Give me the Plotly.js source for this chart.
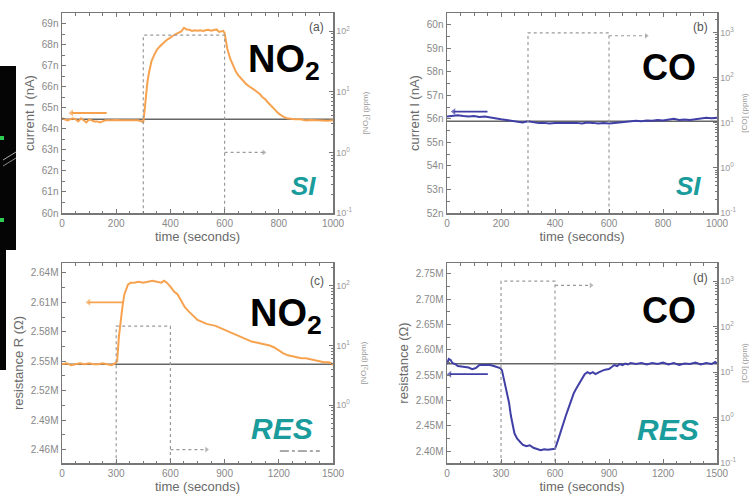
<!DOCTYPE html>
<html><head><meta charset="utf-8">
<script src="https://cdn.plot.ly/plotly-3.0.1.min.js"></script>
<style>html,body{margin:0;padding:0;background:#fff}#chart{width:749px;height:500px}</style>
</head><body><div id="chart"></div>
<script>
// ---- data ----
const tA=[0,10,20,30,40,50,60,70,80,90,100,110,120,130,140,150,160,180,200,220,240,260,280,295,300,305,310,315,320,330,340,350,360,370,380,390,400,410,420,430,440,450,460,470,480,490,500,510,520,530,540,550,560,570,580,590,595,600,605,610,620,630,640,650,660,670,680,690,700,710,720,730,740,750,760,770,780,790,800,810,820,830,840,850,860,880,900,920,940,960,980,1000];
const currentA=[64.5,64.45,64.4,64.45,64.5,64.45,64.35,64.5,64.4,64.3,64.45,64.4,64.35,64.35,64.3,64.35,64.4,64.4,64.42,64.4,64.4,64.42,64.4,64.35,64.3,64.9,65.6,66.2,66.6,67.2,67.5,67.75,67.9,68.05,68.15,68.25,68.35,68.42,68.5,68.55,68.62,68.8,68.72,68.7,68.65,68.68,68.66,68.68,68.65,68.68,68.7,68.66,68.68,68.72,68.6,68.62,68.65,68.55,68.2,67.8,67.35,67.0,66.75,66.55,66.4,66.25,66.12,66.02,65.95,65.85,65.75,65.65,65.5,65.4,65.25,65.1,65.0,64.85,64.72,64.62,64.55,64.5,64.48,64.47,64.45,64.45,64.4,64.42,64.4,64.4,64.38,64.4];

const tB=[0,20,40,60,80,100,120,140,160,180,200,220,240,260,280,300,320,340,360,380,400,420,440,460,480,500,520,540,560,580,600,620,640,660,680,700,720,740,760,780,800,820,840,860,880,900,920,940,960,980,1000];
const currentB=[56.1,56.12,56.15,56.12,56.1,56.12,56.08,56.1,56.05,56.0,55.98,55.95,55.92,55.88,55.85,55.9,55.85,55.82,55.83,55.8,55.82,55.83,55.82,55.84,55.83,55.8,55.85,55.83,55.8,55.82,55.8,55.82,55.84,55.86,55.88,55.92,55.9,55.93,55.92,55.95,55.93,55.95,56.0,55.95,55.97,55.95,55.98,56.0,56.05,56.03,56.05];

const tC=[0,25,50,75,100,125,150,175,200,225,250,275,295,305,315,325,335,345,355,365,380,400,425,450,475,500,525,550,565,580,600,620,640,660,680,700,725,750,775,800,825,850,875,900,925,950,975,1000,1025,1050,1075,1100,1125,1150,1175,1200,1225,1250,1275,1300,1325,1350,1375,1400,1425,1450,1475,1490,1500];
const resistC=[2.547,2.548,2.546,2.547,2.548,2.547,2.548,2.547,2.547,2.548,2.547,2.546,2.548,2.550,2.575,2.592,2.606,2.618,2.624,2.628,2.630,2.630,2.631,2.630,2.631,2.632,2.631,2.630,2.632,2.630,2.626,2.621,2.618,2.611,2.605,2.601,2.596,2.592,2.590,2.588,2.587,2.586,2.584,2.582,2.580,2.578,2.576,2.574,2.572,2.570,2.569,2.568,2.567,2.566,2.564,2.561,2.558,2.556,2.555,2.554,2.553,2.553,2.552,2.551,2.550,2.549,2.549,2.548,2.546];

const tD=[0,10,20,30,45,60,80,100,120,140,160,180,200,220,240,260,280,295,305,315,325,335,345,355,365,375,390,405,420,440,460,480,500,520,540,560,580,600,615,630,645,660,675,690,705,720,735,750,765,780,795,810,825,840,855,870,885,900,915,930,945,960,975,990,1005,1020,1050,1080,1110,1140,1170,1200,1230,1260,1290,1320,1350,1380,1410,1440,1470,1490,1500];
const resistD=[2.572,2.582,2.580,2.574,2.572,2.568,2.567,2.566,2.565,2.562,2.564,2.570,2.570,2.569,2.570,2.568,2.566,2.564,2.560,2.545,2.530,2.515,2.495,2.470,2.448,2.435,2.425,2.418,2.413,2.410,2.412,2.407,2.405,2.402,2.404,2.403,2.404,2.405,2.420,2.438,2.455,2.470,2.485,2.500,2.515,2.525,2.535,2.542,2.552,2.556,2.553,2.556,2.552,2.555,2.558,2.560,2.561,2.562,2.566,2.570,2.568,2.572,2.570,2.573,2.571,2.574,2.572,2.574,2.571,2.574,2.572,2.575,2.571,2.574,2.570,2.573,2.572,2.575,2.571,2.574,2.572,2.576,2.573];

// gas step profiles (ppm), zero level drawn below the log range
const stepTimes=[300,300,600,600];
const concNO2a=[0.001,86,86,0.001];
const concCOb=[0.001,1000,1000,0.001];
const concNO2c=[0.001,21,21,0.001];
const concCOd=[0.001,1000,1000,0.001];

// baselines
const baseA=64.45, baseB=55.9, baseC=2.547, baseD=2.5726;

// axis-indicator arrows: [tail time, head time], level
const arrowLeftAt=[165,35], arrowLeftAv=64.75;
const arrowLeftBt=[150,25], arrowLeftBv=56.31;
const arrowLeftCt=[340,147], arrowLeftCv=2.610;
const arrowLeftDt=[227,15], arrowLeftDv=2.552;
const arrowRightAt=[600,745], arrowRightAv=1;
const arrowRightBt=[600,738], arrowRightBv=860;
const arrowRightCt=[600,800], arrowRightCv=0.18;
const arrowRightDt=[600,800], arrowRightDv=810;
const dashMarkCt=[1206,1427], dashMarkCv=0.17;

const ORANGE='#f7a24f', BLUE='#3f3fa6', TEAL='#1a9c9c', AX='#777', DASH='#9a9a9a';

// ---- traces ----
function line(x,y,xa,ya,color,w,dash){return {x:x,y:y,xaxis:xa,yaxis:ya,type:'scatter',mode:'lines',line:{color:color,width:w,dash:dash||'solid'},hoverinfo:'skip',showlegend:false};}
function arrow(ts,v,xa,ya,color,w,dash,sym,msize){
  return {x:ts,y:[v,v],xaxis:xa,yaxis:ya,type:'scatter',mode:'lines+markers',line:{color:color,width:w,dash:dash||'solid'},
    marker:{symbol:sym,size:[0,msize],color:color,line:{width:0}},hoverinfo:'skip',showlegend:false};
}
const traces=[
 line(stepTimes,concNO2a,'x','y2',DASH,1.2,'dot'),
 arrow(arrowRightAt,arrowRightAv,'x','y2',DASH,1.2,'dot','triangle-right',5),
 line([0,1000],[baseA,baseA],'x','y','#666',1.6),
 line(tA,currentA,'x','y',ORANGE,2),
 arrow(arrowLeftAt,arrowLeftAv,'x','y',ORANGE,1.8,'solid','triangle-left',6),

 line(stepTimes,concCOb,'x2','y4',DASH,1.2,'dot'),
 arrow(arrowRightBt,arrowRightBv,'x2','y4',DASH,1.2,'dot','triangle-right',5),
 line([0,1000],[baseB,baseB],'x2','y3','#666',1.6),
 line(tB,currentB,'x2','y3',BLUE,2),
 arrow(arrowLeftBt,arrowLeftBv,'x2','y3',BLUE,1.8,'solid','triangle-left',6),

 line(stepTimes,concNO2c,'x3','y6',DASH,1.2,'dot'),
 arrow(arrowRightCt,arrowRightCv,'x3','y6',DASH,1.2,'dot','triangle-right',5),
 line(dashMarkCt,[dashMarkCv,dashMarkCv],'x3','y6','#555',1,'dashdot'),
 line([0,1500],[baseC,baseC],'x3','y5','#666',1.6),
 line(tC,resistC,'x3','y5',ORANGE,2),
 arrow(arrowLeftCt,arrowLeftCv,'x3','y5',ORANGE,1.8,'solid','triangle-left',6),

 line(stepTimes,concCOd,'x4','y8',DASH,1.2,'dot'),
 arrow(arrowRightDt,arrowRightDv,'x4','y8',DASH,1.2,'dot','triangle-right',5),
 line([0,1500],[baseD,baseD],'x4','y7','#666',1.6),
 line(tD,resistD,'x4','y7',BLUE,2),
 arrow(arrowLeftDt,arrowLeftDv,'x4','y7',BLUE,1.8,'solid','triangle-left',6)
];

// ---- layout ----
const W=749,H=500;
const px=v=>v/W, py=v=>1-v/H;
const FAM='Liberation Sans, Arial, sans-serif';
const tickFont={family:FAM,size:10,color:'#888'};
const titleFont={family:FAM,size:13,color:'#6a6a6a'};
function xax(dom,anchor,range,dtick,minor){return {domain:dom,anchor:anchor,range:range,tickmode:'linear',tick0:0,dtick:dtick,ticks:'inside',ticklen:4,tickwidth:1,tickcolor:AX,showline:true,linecolor:AX,linewidth:1.5,mirror:'ticks',showgrid:false,zeroline:false,tickfont:tickFont,minor:{dtick:minor,ticks:'inside',ticklen:2.5,tickcolor:AX,showgrid:false},title:{text:'time (seconds)',font:titleFont,standoff:4}};}
function yax(dom,anchor,range,tick0,dtick,fmt,suffix,title,minor){return {domain:dom,anchor:anchor,range:range,tickmode:'linear',tick0:tick0,dtick:dtick,tickformat:fmt,ticksuffix:suffix,ticks:'inside',ticklen:4,tickcolor:AX,showline:true,linecolor:AX,linewidth:1.5,mirror:true,showgrid:false,zeroline:false,tickfont:tickFont,minor:{dtick:minor,ticks:'inside',ticklen:2.5,tickcolor:AX,showgrid:false},title:{text:title,font:titleFont,standoff:4}};}
function yr(over,anchor,range,vals,title){return {overlaying:over,anchor:anchor,side:'right',type:'log',range:range,tickmode:'array',tickvals:vals.map(v=>Math.pow(10,v)),ticktext:vals.map(v=>'10<sup>'+v+'</sup>'),ticks:'inside',ticklen:4,tickcolor:AX,showline:true,linecolor:AX,linewidth:1.5,showgrid:false,zeroline:false,tickfont:{family:FAM,size:9,color:'#999'},minor:{dtick:'D1',ticks:'inside',ticklen:2,tickcolor:AX,showgrid:false},title:{text:title,font:{family:FAM,size:8,color:'#999'},standoff:11}};}

const dxL=[px(62),px(333)], dxR=[px(447),px(717)];
const dyT=[py(213),py(13)], dyB=[py(463),py(263)];

const bigNO={family:FAM,size:38,color:'#000'};
const bigCO={family:FAM,size:36,color:'#000'};
const tealSI={family:FAM,size:26,color:TEAL};
const tealRES={family:FAM,size:30,color:TEAL};
const lab={family:FAM,size:12,color:'#555'};
function txt(x,y,text,font,xa){return {xref:'paper',yref:'paper',x:px(x),y:py(y),text:text,font:font,showarrow:false,xanchor:xa||'left',yanchor:'middle'};}

const layout={
 width:W,height:H,margin:{l:0,r:0,t:0,b:0},paper_bgcolor:'#fff',plot_bgcolor:'#fff',showlegend:false,
 font:{family:FAM},
 xaxis:xax(dxL,'y',[0,1000],200,50),
 yaxis:yax(dyT,'x',[60,69.5],60,1,'d','n','current I (nA)',0.5),
 yaxis2:yr('y','x',[-1,2.3],[-1,0,1,2],'[NO<sub>2</sub>] (ppm)'),
 xaxis2:xax(dxR,'y3',[0,1000],200,50),
 yaxis3:yax(dyT,'x2',[52,60.5],52,1,'d','n','current I (nA)',0.5),
 yaxis4:yr('y3','x2',[-1,3.44],[-1,0,1,2,3],'[CO] (ppm)'),
 xaxis3:xax(dxL,'y5',[0,1500],300,75),
 yaxis5:yax(dyB,'x3',[2.4464,2.650],2.46,0.03,'.2f','M','resistance R (Ω)',0.015),
 yaxis6:yr('y5','x3',[-0.97,2.38],[-1,0,1,2],'[NO<sub>2</sub>] (ppm)'),
 xaxis4:xax(dxR,'y7',[0,1500],300,75),
 yaxis7:yax(dyB,'x4',[2.377,2.771],2.40,0.05,'.2f','M','resistance (Ω)',0.025),
 yaxis8:yr('y7','x4',[-1,3.4],[-1,0,1,2,3],'[CO] (ppm)'),
 annotations:[
  txt(246,62,'<b>NO<sub>2</sub></b>',bigNO), txt(640,67,'<b>CO</b>',bigCO),
  txt(248,316,'<b>NO<sub>2</sub></b>',bigNO), txt(640,310,'<b>CO</b>',bigCO),
  txt(318,186,'<b><i>SI</i></b>',tealSI,'right'),
  txt(703,186,'<b><i>SI</i></b>',tealSI,'right'),
  txt(315,428,'<b><i>RES</i></b>',tealRES,'right'),
  txt(701,429,'<b><i>RES</i></b>',tealRES,'right'),
  txt(326,27,'(a)',lab,'right'),
  txt(710,27,'(b)',lab,'right'),
  txt(326,281,'(c)',lab,'right'),
  txt(710,278,'(d)',lab,'right')
 ],
 shapes:[
  {type:'rect',xref:'paper',yref:'paper',x0:0,x1:px(16),y0:py(250),y1:py(66),fillcolor:'#050505',line:{width:0},layer:'below'},
  {type:'rect',xref:'paper',yref:'paper',x0:0,x1:px(6),y0:py(370),y1:py(250),fillcolor:'#050505',line:{width:0},layer:'below'},
  {type:'rect',xref:'paper',yref:'paper',x0:0,x1:px(4),y0:py(140),y1:py(136),fillcolor:'#2ecc55',line:{width:0}},
  {type:'rect',xref:'paper',yref:'paper',x0:0,x1:px(4),y0:py(222),y1:py(218),fillcolor:'#2ecc55',line:{width:0}},
  {type:'line',xref:'paper',yref:'paper',x0:px(3),x1:px(16),y0:py(160),y1:py(152),line:{color:'#aaa',width:1}},
  {type:'line',xref:'paper',yref:'paper',x0:px(3),x1:px(16),y0:py(166),y1:py(158),line:{color:'#888',width:1}}
 ]
};
Plotly.newPlot('chart',traces,layout,{staticPlot:true,displayModeBar:false});
</script></body></html>
